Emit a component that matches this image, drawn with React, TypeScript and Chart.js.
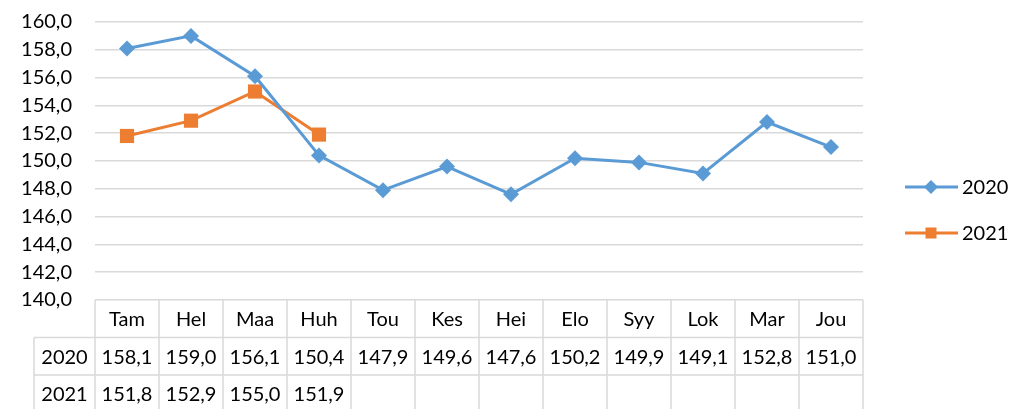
import React, { useEffect, useRef } from "react";
import { Chart, registerables } from "chart.js";

Chart.register(...registerables);

const categories = ["Tam", "Hel", "Maa", "Huh", "Tou", "Kes", "Hei", "Elo", "Syy", "Lok", "Mar", "Jou"];
const series2020 = [158.1, 159.0, 156.1, 150.4, 147.9, 149.6, 147.6, 150.2, 149.9, 149.1, 152.8, 151.0];
const series2021: (number | null)[] = [151.8, 152.9, 155.0, 151.9, null, null, null, null, null, null, null, null];
const seriesNames = ["2020", "2021"];
const yMin = 140;
const yMax = 160;
const yStep = 2;

const BLUE = "#5b9bd5";
const ORANGE = "#ed7d31";
const GRID = "#d9d9d9";
const FONT = "Lato";
const FS = 20;

const fmt = (v: number | null) => (v == null ? "" : v.toFixed(1).replace(".", ","));

const tablePlugin = {
  id: "tableLegend",
  afterDraw(chart: any) {
    const ctx = chart.ctx;
    const area = chart.chartArea;
    const xs = chart.scales.x;
    const n = categories.length;
    const colW = (area.right - area.left) / n;
    const top = area.bottom;
    const rowH = 37.5;
    const labelLeft = 34;
    ctx.save();
    ctx.strokeStyle = GRID;
    ctx.lineWidth = 1.5;
    for (let i = 0; i <= n; i++) {
      const x = area.left + i * colW;
      ctx.beginPath();
      ctx.moveTo(x, top);
      ctx.lineTo(x, top + rowH * 3 + 5);
      ctx.stroke();
    }
    ctx.beginPath();
    ctx.moveTo(labelLeft, top + rowH);
    ctx.lineTo(labelLeft, top + rowH * 3 + 5);
    ctx.stroke();
    for (let r = 1; r <= 2; r++) {
      ctx.beginPath();
      ctx.moveTo(labelLeft, top + rowH * r);
      ctx.lineTo(area.right, top + rowH * r);
      ctx.stroke();
    }
    ctx.fillStyle = "#000";
    ctx.font = `${FS}px ${FONT}`;
    ctx.textAlign = "center";
    ctx.textBaseline = "middle";
    categories.forEach((c, i) => {
      const x = xs.getPixelForValue(i);
      ctx.fillText(c, x, top + rowH * 0.5 + 1);
      ctx.fillText(fmt(series2020[i]), x, top + rowH * 1.5 + 1);
      ctx.fillText(fmt(series2021[i]), x, top + rowH * 2.5 + 1);
    });
    ctx.fillText(seriesNames[0], (labelLeft + area.left) / 2, top + rowH * 1.5 + 1);
    ctx.fillText(seriesNames[1], (labelLeft + area.left) / 2, top + rowH * 2.5 + 1);

    const items = [
      { name: seriesNames[0], color: BLUE, y: 187, shape: "diamond" },
      { name: seriesNames[1], color: ORANGE, y: 233, shape: "square" },
    ];
    items.forEach((it) => {
      ctx.strokeStyle = it.color;
      ctx.lineWidth = 3;
      ctx.beginPath();
      ctx.moveTo(905, it.y);
      ctx.lineTo(958, it.y);
      ctx.stroke();
      ctx.fillStyle = it.color;
      const cx = 931;
      if (it.shape === "diamond") {
        ctx.beginPath();
        ctx.moveTo(cx, it.y - 7);
        ctx.lineTo(cx + 7, it.y);
        ctx.lineTo(cx, it.y + 7);
        ctx.lineTo(cx - 7, it.y);
        ctx.closePath();
        ctx.fill();
      } else {
        ctx.fillRect(cx - 5.5, it.y - 5.5, 11, 11);
      }
      ctx.fillStyle = "#000";
      ctx.textAlign = "left";
      ctx.fillText(it.name, 962, it.y + 1);
    });
    ctx.restore();
  },
};

export default function App() {
  const ref = useRef<HTMLCanvasElement | null>(null);
  useEffect(() => {
    document.body.style.margin = "0";
    if (!ref.current) return;
    const chart = new Chart(ref.current, {
      type: "line",
      data: {
        labels: categories,
        datasets: [
          {
            label: seriesNames[0],
            data: series2020,
            borderColor: BLUE,
            backgroundColor: BLUE,
            borderWidth: 3,
            pointStyle: "rectRot",
            pointRadius: 8,
            pointBorderWidth: 0,
            tension: 0,
          },
          {
            label: seriesNames[1],
            data: series2021,
            borderColor: ORANGE,
            backgroundColor: ORANGE,
            borderWidth: 3,
            pointStyle: "rect",
            pointRadius: 10,
            pointBorderWidth: 0,
            tension: 0,
          },
        ],
      },
      options: {
        responsive: false,
        animation: false,
        layout: { padding: { top: 22, right: 152, bottom: 109, left: 0 } },
        plugins: { legend: { display: false }, tooltip: { enabled: false } },
        scales: {
          x: {
            display: false,
            offset: true,
          },
          y: {
            min: yMin,
            max: yMax,
            afterFit: (s: any) => {
              s.width = 95;
              s.paddingTop = 0;
              s.paddingBottom = 0;
            },
            ticks: {
              stepSize: yStep,
              padding: 23,
              color: "#000",
              font: { family: FONT, size: FS },
              callback: (v: any) => fmt(Number(v)),
            },
            grid: { color: GRID, lineWidth: 1.5, drawTicks: false },
            border: { display: false },
          },
        },
      },
      plugins: [tablePlugin],
    });
    return () => chart.destroy();
  }, []);
  return (
    <div style={{ width: 1015, height: 409 }}>
      <canvas ref={ref} width={1015} height={409} />
    </div>
  );
}
